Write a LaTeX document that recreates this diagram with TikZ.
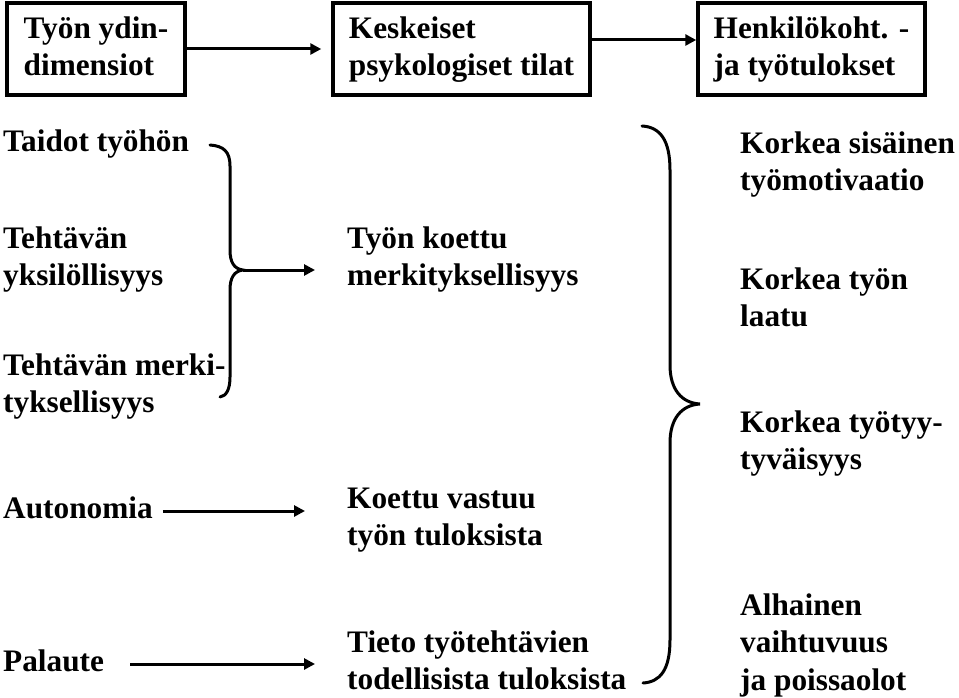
\documentclass[tikz,border=0pt]{standalone}
\usepackage{fontspec}
\setmainfont{Liberation Serif}
\usetikzlibrary{arrows.meta}
\begin{document}
\begin{tikzpicture}[x=1pt,y=-1pt,
  bigfont/.style={font=\fontsize{31.3}{37.5}\selectfont\bfseries},
  txt/.style={bigfont, anchor=base west, inner sep=0pt, align=left},
  hbox/.style={bigfont, draw, line width=3.5pt, inner sep=0pt, align=left, anchor=base, text height=73pt, text depth=19pt},
  arr/.style={line width=3pt, -{Triangle[length=11pt,width=11pt]}},
  brace/.style={line width=3pt, line cap=round}]
\useasboundingbox (0,0) rectangle (959,698);
\fill[white] (0,0) rectangle (959,698);
% header boxes
\node[hbox, minimum width=178pt] (box1) at (96,76) {Työn ydin-\\dimensiot};
\node[hbox, minimum width=257pt] (box2) at (461.5,76) {Keskeiset\\psykologiset tilat};
\node[hbox, minimum width=227pt] (box3) at (811.5,76) {Henkilökoht. -\\ja työtulokset};
\draw[arr, shorten >=10pt] (box1.east) -- (box2.west);
\draw[arr] ([yshift=9pt]box2.east) -- ([yshift=9pt]box3.west);
% left column
\node[txt] (tl1) at (3,152) {Taidot työhön};
\node[txt] (tl2) at (3,285.5) {Tehtävän\\yksilöllisyys};
\node[txt] (tl3) at (3,412.5) {Tehtävän merki-\\tyksellisyys};
\node[txt] (tl4) at (3,518) {Autonomia};
\node[txt] (tl5) at (3,671) {Palaute};
% middle column
\node[txt] (m1) at (347,285.5) {Työn koettu\\merkityksellisyys};
\node[txt] (m2) at (347,545.5) {Koettu vastuu\\työn tuloksista};
\node[txt] (m3) at (347,689.5) {Tieto työtehtävien\\todellisista tuloksista};
% right column
\node[txt] (r1) at (740,190.5) {Korkea sisäinen\\työmotivaatio};
\node[txt] (r2) at (740,326.5) {Korkea työn\\laatu};
\node[txt] (r3) at (740,469.5) {Korkea työtyy-\\tyväisyys};
\node[txt] (r4) at (740,690) {Alhainen\\vaihtuvuus\\ja poissaolot};
% brace 1
\coordinate (b1t) at (210,145);
\coordinate (b1m) at (243,270);
\coordinate (b1b) at (220,397);
\draw[brace] (b1t) .. controls (224,146) and (230,152) .. (230,166) -- (230,250)
  .. controls (230,262) and (234,269) .. (b1m)
  .. controls (234,271) and (230,278) .. (230,290) -- (230,377)
  .. controls (230,390) and (226,396) .. (b1b);
\coordinate (a0e) at (315,270);
\draw[arr] (b1m) -- (a0e);
% brace 2
\coordinate (b2t) at (642,126);
\coordinate (b2m) at (700,404);
\coordinate (b2b) at (643,683);
\draw[brace] (b2t) .. controls (660,127) and (670,140) .. (670,170) -- (670,365)
  .. controls (670,390) and (682,403) .. (b2m)
  .. controls (682,405) and (670,418) .. (670,443) -- (670,640)
  .. controls (670,670) and (660,682) .. (b2b);
% single arrows
\coordinate (a1e) at (305,511);
\draw[arr, shorten <=10pt] (tl4.east |- a1e) -- (a1e);
\coordinate (a2e) at (315,664);
\draw[arr, shorten <=26pt] (tl5.east |- a2e) -- (a2e);
\end{tikzpicture}
\end{document}
